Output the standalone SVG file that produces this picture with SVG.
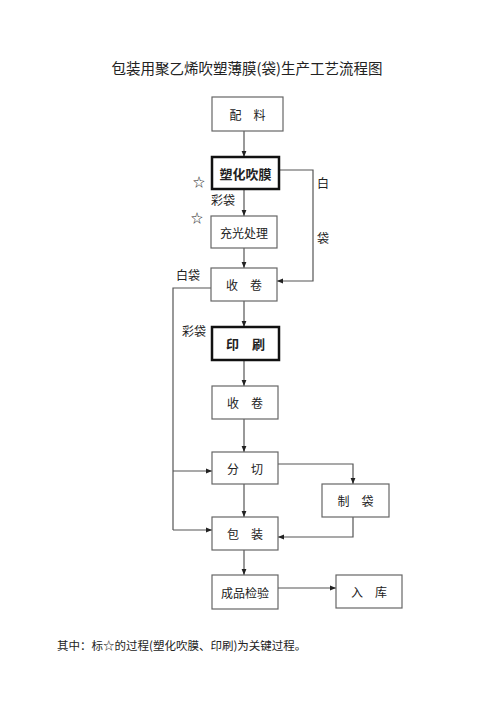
<svg xmlns="http://www.w3.org/2000/svg" width="500" height="708" viewBox="0 0 500 708">
<defs>
<marker id="ah" viewBox="0 0 10 10" refX="10" refY="5" markerWidth="6" markerHeight="6" orient="auto" markerUnits="userSpaceOnUse">
<path d="M0,1 L10,5 L0,9 z" fill="#222"/>
</marker>
<style>
.t{font-family:"Noto Sans CJK SC","Noto Sans",sans-serif;fill:#222}
.box{fill:#fff;stroke:#666;stroke-width:1.2}
.bold{fill:#fff;stroke:#111;stroke-width:2.5}
.lbl{font-size:12px;text-anchor:middle;dominant-baseline:central}
.bl{font-size:13px;font-weight:bold;text-anchor:middle;dominant-baseline:central}
.c{fill:none;stroke:#555;stroke-width:1.2}
.ca{fill:none;stroke:#555;stroke-width:1.2;marker-end:url(#ah)}
</style>
</defs>
<rect width="500" height="708" fill="#fff"/>
<text class="t" x="247" y="67" font-size="14.5" text-anchor="middle" dominant-baseline="central">包装用聚乙烯吹塑薄膜(袋)生产工艺流程图</text>

<g id="connectors">
<path class="ca" d="M244,131 V157"/>
<path class="ca" d="M244,189 V216"/>
<path class="ca" d="M244,248 V268"/>
<path class="ca" d="M279,170 H313 V281 H277"/>
<path class="ca" d="M244,301 V327"/>
<path class="ca" d="M244,360 V386"/>
<path class="ca" d="M244,419 V452"/>
<path class="c" d="M211,288 H173 V530"/>
<path class="ca" d="M173,471 H212"/>
<path class="ca" d="M173,530 H212"/>
<path class="ca" d="M278,464 H353 V484"/>
<path class="ca" d="M353,517 V537 H278"/>
<path class="ca" d="M244,484 V517"/>
<path class="ca" d="M244,550 V575"/>
<path class="ca" d="M278,588 H336"/>
</g>

<g id="n-peiliao"><rect class="box" x="212" y="97" width="71" height="34"/><text class="t lbl" x="247.5" y="114">配　料</text></g>
<g id="n-chuimo"><rect class="bold" x="212" y="157" width="67" height="32"/><text class="t bl" x="245.5" y="173">塑化吹膜</text></g>
<g id="n-chongguang"><rect class="box" x="211" y="216" width="66" height="32"/><text class="t lbl" x="244" y="232">充光处理</text></g>
<g id="n-shoujuan1"><rect class="box" x="211" y="268" width="66" height="33"/><text class="t lbl" x="244" y="284.5">收　卷</text></g>
<g id="n-yinshua"><rect class="bold" x="212" y="327" width="67" height="33"/><text class="t bl" x="245.5" y="343.5">印　刷</text></g>
<g id="n-shoujuan2"><rect class="box" x="212" y="386" width="66" height="33"/><text class="t lbl" x="245" y="402.5">收　卷</text></g>
<g id="n-fenqie"><rect class="box" x="212" y="452" width="66" height="32"/><text class="t lbl" x="245" y="468">分　切</text></g>
<g id="n-zhidai"><rect class="box" x="322" y="484" width="67" height="33"/><text class="t lbl" x="355.5" y="500.5">制　袋</text></g>
<g id="n-baozhuang"><rect class="box" x="212" y="517" width="66" height="33"/><text class="t lbl" x="245" y="533.5">包　装</text></g>
<g id="n-jianyan"><rect class="box" x="212" y="575" width="66" height="34"/><text class="t lbl" x="245" y="592">成品检验</text></g>
<g id="n-ruku"><rect class="box" x="336" y="575" width="66" height="33"/><text class="t lbl" x="369" y="591.5">入　库</text></g>

<g id="labels">
<text class="t lbl" x="199" y="181">☆</text>
<text class="t lbl" x="197" y="217">☆</text>
<text class="t lbl" x="223" y="199">彩袋</text>
<text class="t lbl" x="323" y="182">白</text>
<text class="t lbl" x="323" y="237">袋</text>
<text class="t lbl" x="188" y="274">白袋</text>
<text class="t lbl" x="194" y="330">彩袋</text>
</g>
<text class="t" x="57" y="645" font-size="11.5" dominant-baseline="central">其中：标☆的过程(塑化吹膜、印刷)为关键过程。</text>
</svg>
